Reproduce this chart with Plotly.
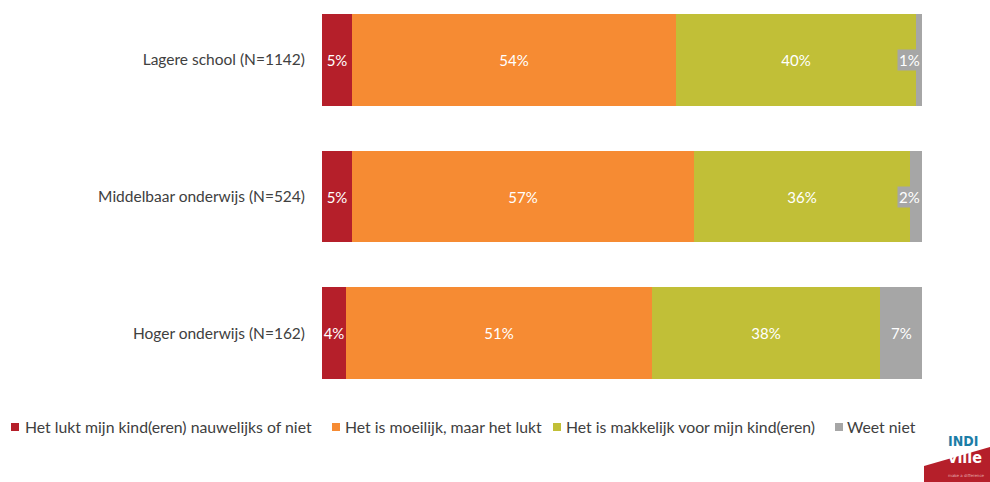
import plotly.graph_objects as go

categories = ["Lagere school (N=1142)", "Middelbaar onderwijs (N=524)", "Hoger onderwijs (N=162)"]
series_names = [
    "Het lukt mijn kind(eren) nauwelijks of niet",
    "Het is moeilijk, maar het lukt",
    "Het is makkelijk voor mijn kind(eren)",
    "Weet niet",
]
nauwelijks = [5, 5, 4]
moeilijk = [54, 57, 51]
makkelijk = [40, 36, 38]
weet_niet = [1, 2, 7]
colors = ["#B51F2A", "#F68B33", "#C1BF37", "#A6A6A6"]

values = [nauwelijks, moeilijk, makkelijk, weet_niet]

W, H = 990, 482
L, R, T, B = 322, 68, 14, 103
plot_w = W - L - R
plot_h = H - T - B
TXT = "#404040"


def px_x(px):
    return (px - L) / plot_w


def px_y(py):
    return (H - B - py) / plot_h


fig = go.Figure()
for idx, (name, vals, col) in enumerate(zip(series_names, values, colors)):
    fig.add_trace(go.Bar(
        y=categories, x=vals, name=name, orientation="h",
        marker=dict(color=col, line=dict(width=0)),
        width=0.67,
        text=[f"{v}%" for v in vals],
        textposition="none" if idx == 3 else "inside",
        insidetextanchor="middle",
        constraintext="none",
        textangle=0,
        textfont=dict(color="white", size=15, family="Lato"),
        hoverinfo="skip",
        showlegend=False,
    ))

annotations = []
shapes = []

# labels for "Weet niet" segments with grey box
for i, cat in enumerate(categories):
    start = nauwelijks[i] + moeilijk[i] + makkelijk[i]
    end = start + weet_niet[i]
    small = weet_niet[i] < 3
    annotations.append(dict(
        x=end if small else start + weet_niet[i] / 2, y=cat, xref="x", yref="y",
        xanchor="right" if small else "center", yanchor="middle",
        text=f"{weet_niet[i]}%", showarrow=False,
        font=dict(color="white", size=15, family="Lato"),
        bgcolor="#A6A6A6", borderpad=1,
    ))

# legend (swatches + text)
legend_swatch_x = [11, 332, 553, 835]
legend_text_x = [23, 343, 564, 845]
legend_y = 427
for name, col, sx, tx in zip(series_names, colors, legend_swatch_x, legend_text_x):
    shapes.append(dict(
        type="rect", xref="paper", yref="paper",
        x0=px_x(sx), x1=px_x(sx + 8), y0=px_y(legend_y + 4), y1=px_y(legend_y - 4),
        fillcolor=col, line=dict(width=0),
    ))
    annotations.append(dict(
        x=px_x(tx), y=px_y(legend_y), xref="paper", yref="paper",
        xanchor="left", yanchor="middle", text=name, showarrow=False,
        font=dict(color=TXT, size=15.8, family="Lato"),
    ))

# logo
shapes.append(dict(
    type="path", xref="paper", yref="paper",
    path=(f"M {px_x(924)} {px_y(482)} L {px_x(924)} {px_y(466)} "
          f"L {px_x(990)} {px_y(447)} L {px_x(990)} {px_y(482)} Z"),
    fillcolor="#B51F2A", line=dict(width=0), layer="above",
))
annotations.append(dict(
    x=px_x(963), y=px_y(441), xref="paper", yref="paper",
    xanchor="center", yanchor="middle",
    text="<b>INDI</b>", showarrow=False,
    font=dict(color="#1B7DA6", size=14, family="DejaVu Sans Condensed, DejaVu Sans"),
))
annotations.append(dict(
    x=px_x(965), y=px_y(458), xref="paper", yref="paper",
    xanchor="center", yanchor="middle",
    text="<b>ville</b>", showarrow=False,
    font=dict(color="white", size=16, family="DejaVu Sans Condensed, DejaVu Sans"),
))
annotations.append(dict(
    x=px_x(966), y=px_y(475), xref="paper", yref="paper",
    xanchor="center", yanchor="middle",
    text="make a difference", showarrow=False,
    font=dict(color="#E8B0B0", size=4, family="DejaVu Sans"),
))

fig.update_layout(
    barmode="stack",
    width=W, height=H,
    margin=dict(l=L, r=R, t=T, b=B, pad=0),
    paper_bgcolor="white", plot_bgcolor="white",
    font=dict(family="Lato", color=TXT, size=15),
    xaxis=dict(range=[0, 100], autorange=False, visible=False, fixedrange=True),
    yaxis=dict(
        range=[2.335, -0.335], autorange=False, showgrid=False, zeroline=False, showline=False,
        ticks="", ticklabelstandoff=16, automargin=False, fixedrange=True,
        tickfont=dict(size=15.5, color=TXT, family="Lato"),
    ),
    showlegend=False,
    annotations=annotations,
    shapes=shapes,
)

fig.write_html(
    "out.html",
    config={"displayModeBar": False},
    post_script="document.body.style.margin='0';document.body.style.overflow='hidden';",
)
